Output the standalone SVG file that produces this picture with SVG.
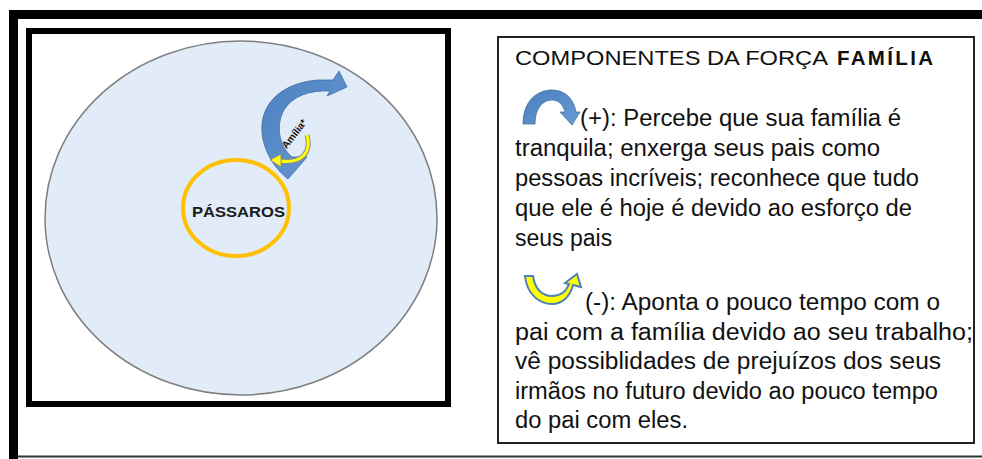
<svg xmlns="http://www.w3.org/2000/svg" width="982" height="459" viewBox="0 0 982 459">
<defs>
<style>
.t{font-family:"Liberation Sans",Arial,sans-serif;font-size:23px;fill:#111}
.ti{font-family:"Liberation Sans",Arial,sans-serif;font-size:20.5px;fill:#111}
.b{font-weight:bold}
</style>
<linearGradient id="bl" x1="0" y1="0" x2="1" y2="1">
<stop offset="0" stop-color="#4a7fbf"/>
<stop offset="1" stop-color="#6a9bd3"/>
</linearGradient>
</defs>
<rect width="982" height="459" fill="#ffffff"/>
<g id="frame">
<rect x="9" y="10" width="973" height="9" fill="#000"/>
<rect x="9" y="10" width="9" height="449" fill="#000"/>
<rect x="18" y="455.5" width="964" height="2" fill="#333"/>
</g>
<g id="left-panel">
<rect x="29" y="31" width="419" height="373" fill="#fff" stroke="#000" stroke-width="6"/>
<ellipse cx="241" cy="218" rx="196" ry="177" fill="#e1ecf8" stroke="#7f7f7f" stroke-width="1.5"/>
</g>
<g id="node-passaros">
<ellipse cx="236" cy="208" rx="53" ry="48" fill="none" stroke="#ffc000" stroke-width="4"/>
<text x="238.5" y="217" text-anchor="middle" font-family="'Liberation Sans',Arial,sans-serif" font-weight="bold" font-size="15.5" fill="#1a1a1a" textLength="93" lengthAdjust="spacingAndGlyphs">PÁSSAROS</text>
</g>
<g id="connectors">
<path d="M288,179 C270,165 258,140 263,118 C268,96 290,82 318,80 L333,80 L339,71 L347,87 L327,96 L330,91 C310,90 292,96 284,110 C276,124 278,145 292,157 L307,157 Z" fill="url(#bl)" stroke="#3d6fa8" stroke-width="0.8"/>
<path d="M307,135 C312,152 302,164 280,161" fill="none" stroke="#8a8a8a" stroke-width="5"/>
<path d="M307,135 C312,152 302,164 280,161" fill="none" stroke="#ffff00" stroke-width="3"/>
<polygon points="270,160 281,154 281,167" fill="#ffff00" stroke="#8a8a8a" stroke-width="1"/>
<text x="0" y="0" transform="translate(297,136) rotate(-52)" text-anchor="middle" font-family="'Liberation Sans',Arial,sans-serif" font-weight="bold" font-size="10" fill="#111">Amília*</text>
</g>
<g id="legend">
<rect x="498" y="37" width="476" height="406" fill="#fff" stroke="#222" stroke-width="2"/>
<text class="ti" x="515" y="65" textLength="313" lengthAdjust="spacingAndGlyphs">COMPONENTES DA FORÇA</text>
<text class="ti b" x="837" y="65" textLength="96" lengthAdjust="spacing">FAMÍLIA</text>
<path d="M523,124 C523,100 538,90 552,90 C566,90 574,100 576,112 L580,112 L572,125 L560,112 L565,112 C563,104 558,100 552,100 C543,100 535,108 535,124 Z" fill="url(#bl)" stroke="#41719c" stroke-width="0.8"/>
<path d="M525,276 C527,295 540,304 552,304 C562,304 570,297 573,285 L581,287 L577,274 L565,283 L569,284 C566,292 560,296 552,296 C543,296 535,290 533,276 Z" fill="#ffff00" stroke="#4f81bd" stroke-width="2"/>
<text class="t" x="580" y="126" textLength="321" lengthAdjust="spacingAndGlyphs">(+): Percebe que sua família é</text>
<text class="t" x="515" y="156" textLength="365" lengthAdjust="spacingAndGlyphs">tranquila; enxerga seus pais como</text>
<text class="t" x="515" y="186" textLength="404" lengthAdjust="spacingAndGlyphs">pessoas incríveis; reconhece que tudo</text>
<text class="t" x="515" y="216" textLength="397" lengthAdjust="spacingAndGlyphs">que ele é hoje é devido ao esforço de</text>
<text class="t" x="515" y="246">seus pais</text>
<text class="t" x="585" y="310" textLength="355" lengthAdjust="spacingAndGlyphs">(-): Aponta o pouco tempo com o</text>
<text class="t" x="515" y="339.5" textLength="458" lengthAdjust="spacingAndGlyphs">pai com a família devido ao seu trabalho;</text>
<text class="t" x="515" y="369" textLength="426" lengthAdjust="spacingAndGlyphs">vê possiblidades de prejuízos dos seus</text>
<text class="t" x="515" y="398.5" textLength="423" lengthAdjust="spacingAndGlyphs">irmãos no futuro devido ao pouco tempo</text>
<text class="t" x="515" y="428" textLength="173" lengthAdjust="spacingAndGlyphs">do pai com eles.</text>
</g>
</svg>
